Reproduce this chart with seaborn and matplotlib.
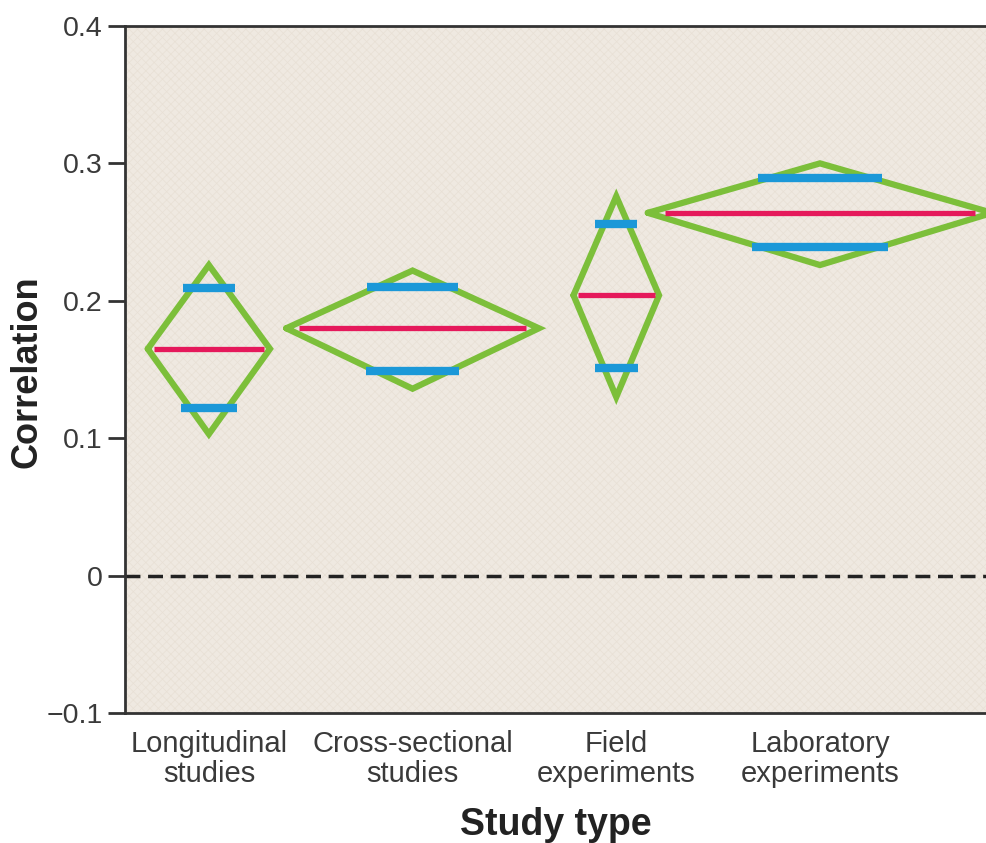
import numpy as np
import pandas as pd
import matplotlib
matplotlib.use("Agg")
import matplotlib.pyplot as plt
import seaborn as sns
from matplotlib.patches import Rectangle

# Data
studies = ["Longitudinal\nstudies", "Cross-sectional\nstudies", "Field\nexperiments", "Laboratory\nexperiments"]
mean_r = [0.165, 0.180, 0.204, 0.264]
ci_low = [0.122, 0.149, 0.151, 0.239]
ci_high = [0.209, 0.210, 0.256, 0.289]
tip_low = [0.103, 0.136, 0.130, 0.226]
tip_high = [0.226, 0.222, 0.276, 0.300]
half_width = [0.30, 0.62, 0.21, 0.845]
yticks = [-0.1, 0, 0.1, 0.2, 0.3, 0.4]
ytick_labels = ["\u22120.1", "0", "0.1", "0.2", "0.3", "0.4"]

sns.set_style("ticks")
plt.rcParams['font.family'] = ['Liberation Sans', 'DejaVu Sans']
plt.rcParams['hatch.linewidth'] = 0.5

green = "#7cbf3a"
blue = "#1b98d8"
red = "#e5195b"

fig = plt.figure(figsize=(9.87, 8.43), dpi=100)
ax = fig.add_axes([0.1266, 0.1542, 0.8734, 0.815])
ax.set_facecolor("#efe9e1")
ax.add_patch(Rectangle((0, 0), 1, 1, transform=ax.transAxes, facecolor="none",
                       edgecolor="#e8e0d5", hatch="xxxx", lw=0, zorder=0))

# diamond outlines as a long table
rows = []
for i, s in enumerate(studies):
    pts = [(i - half_width[i], mean_r[i]), (i, tip_high[i]), (i + half_width[i], mean_r[i]),
           (i, tip_low[i]), (i - half_width[i], mean_r[i])]
    for k, (x, y) in enumerate(pts):
        rows.append({"study": s, "x": x, "y": y, "order": k})
outline = pd.DataFrame(rows)

sns.lineplot(data=outline, x="x", y="y", units="study", estimator=None, sort=False,
             color=green, lw=4.5, ax=ax, zorder=3, solid_joinstyle="miter")

# confidence lines span the diamond at that height
for i in range(len(studies)):
    for lvl, tip in [(ci_high[i], tip_high[i]), (ci_low[i], tip_low[i])]:
        w = half_width[i] * (1 - (lvl - mean_r[i]) / (tip - mean_r[i])) + 0.045
        ax.plot([i - w, i + w], [lvl, lvl], color=blue, lw=6, solid_capstyle="butt", zorder=4)
    w = half_width[i] * 0.9
    ax.plot([i - w, i + w], [mean_r[i], mean_r[i]], color=red, lw=3.8, solid_capstyle="butt", zorder=4)

ax.axhline(0, color="#222222", lw=2.5, ls=(0, (4.3, 2.2)), zorder=2)

ax.set_xlim(-0.412, 3.82)
ax.set_ylim(-0.1, 0.4)
ax.set_xticks(range(len(studies)))
ax.set_xticklabels(studies, fontsize=21, color="#3a3a3a", linespacing=1.1)
ax.set_yticks(yticks)
ax.set_yticklabels(ytick_labels, fontsize=20.5, color="#3a3a3a")
ax.tick_params(axis="x", length=0, pad=12)
ax.tick_params(axis="y", length=12, width=2, color="#333333", pad=4)

for side in ["left", "bottom", "top"]:
    ax.spines[side].set_linewidth(2)
    ax.spines[side].set_color("#333333")
ax.spines["right"].set_visible(False)

ax.set_xlabel("Study type", fontsize=27, fontweight="bold", color="#222222", labelpad=14)
ax.set_ylabel("Correlation", fontsize=26, fontweight="bold", color="#222222")
ax.yaxis.set_label_coords(-0.093, 0.497)

fig.savefig("out.png", dpi=100)
